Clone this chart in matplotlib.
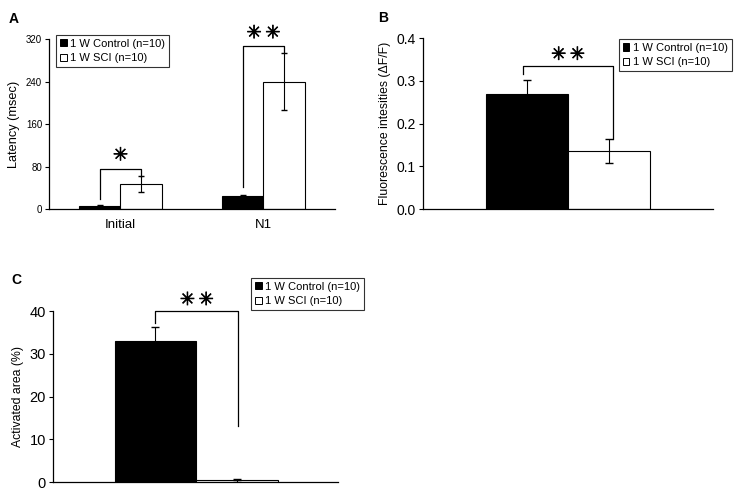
import matplotlib
matplotlib.use("Agg")
import matplotlib.pyplot as plt
import matplotlib.patheffects as pe
from matplotlib.patches import Patch

plt.rcParams['font.family'] = ['Liberation Sans', 'DejaVu Sans']

groups_a = ['Initial', 'N1']
control_a = [6, 25]
control_a_err = [1, 2]
sci_a = [47, 240]
sci_a_err = [15, 53]

control_b = 0.270
control_b_err = 0.033
sci_b = 0.136
sci_b_err = 0.028

control_c = 32.9
control_c_err = 3.4
sci_c = 0.4
sci_c_err = 0.3

legend_labels = ['1 W Control (n=10)', '1 W SCI (n=10)']


def style_axes(ax):
    for s in ['top', 'right']:
        ax.spines[s].set_visible(False)
    ax.spines['left'].set_linewidth(0.9)
    ax.spines['bottom'].set_linewidth(0.9)
    ax.tick_params(axis='y', direction='out', length=3, width=0.8, pad=2)
    ax.tick_params(axis='x', length=0)


def add_legend(ax, loc, anchor, size):
    handles = [Patch(facecolor='black', edgecolor='black', linewidth=0.7),
               Patch(facecolor='white', edgecolor='black', linewidth=0.7)]
    leg = ax.legend(handles, legend_labels, loc=loc, bbox_to_anchor=anchor,
                    fontsize=size, frameon=True, fancybox=False,
                    handlelength=0.6, handleheight=0.6, handletextpad=0.3,
                    borderpad=0.35, labelspacing=0.4, borderaxespad=0)
    leg.get_frame().set_edgecolor('black')
    leg.get_frame().set_linewidth(0.8)


def bracket(ax, x1, y1, x2, y2, ytop, label, ylabel, size):
    ax.plot([x1, x1, x2, x2], [y1, ytop, ytop, y2], color='black', lw=0.9,
            clip_on=False)
    ax.text((x1 + x2) / 2, ylabel, label, ha='center', va='center',
            fontsize=size, family='DejaVu Sans', clip_on=False,
            path_effects=[pe.withStroke(linewidth=0.5, foreground='black')])


fig = plt.figure(figsize=(7.37, 4.91), dpi=100)

# ---- A ----
ax = fig.add_axes([0.0665, 0.5743, 0.388, 0.3462])
w = 0.287
xs = [0, 1]
ax.bar([x - w / 2 for x in xs], control_a, w, color='black', edgecolor='black',
       linewidth=0.8, yerr=control_a_err, ecolor='black',
       error_kw=dict(elinewidth=0.8, capsize=2))
ax.bar([x + w / 2 for x in xs], sci_a, w, color='white', edgecolor='black',
       linewidth=0.8, yerr=sci_a_err, ecolor='black',
       error_kw=dict(elinewidth=0.8, capsize=2))
ax.set_xlim(-0.5, 1.5)
ax.set_ylim(0, 320)
ax.set_yticks([0, 80, 160, 240, 320])
ax.set_xticks(xs)
ax.set_xticklabels(groups_a, fontsize=9.5)
ax.tick_params(axis='y', labelsize=7)
ax.tick_params(axis='x', pad=7)
ax.set_ylabel('Latency (msec)', fontsize=9.2, labelpad=4)
style_axes(ax)
bracket(ax, -w / 2, 18, w / 2, 61, 75, '✳', 101, 13)
bracket(ax, 1 - w / 2, 42, 1 + w / 2, 295, 307, '✳\u2009✳', 331, 13)
add_legend(ax, 'upper left', (0.025, 1.025), 8)
fig.text(0.012, 0.975, 'A', fontsize=10, fontweight='bold', va='top')

# ---- B ----
ax = fig.add_axes([0.574, 0.5743, 0.3935, 0.348])
ax.bar([-0.5], [control_b], 1, color='black', edgecolor='black', linewidth=0.8,
       yerr=[control_b_err], ecolor='black', error_kw=dict(elinewidth=0.8, capsize=3))
ax.bar([0.5], [sci_b], 1, color='white', edgecolor='black', linewidth=0.8,
       yerr=[sci_b_err], ecolor='black', error_kw=dict(elinewidth=0.8, capsize=3))
ax.set_xlim(-1.77, 1.77)
ax.set_ylim(0, 0.4)
ax.set_yticks([0, 0.1, 0.2, 0.3, 0.4])
ax.set_yticklabels(['0.0', '0.1', '0.2', '0.3', '0.4'])
ax.set_xticks([])
ax.tick_params(axis='y', labelsize=10)
ax.set_ylabel('Fluorescence intesities (ΔF/F)', fontsize=8.8, labelpad=4)
style_axes(ax)
bracket(ax, -0.55, 0.316, 0.55, 0.163, 0.334, '✳\u2009✳', 0.361, 13)
add_legend(ax, 'upper left', (0.675, 0.995), 8)
fig.text(0.513, 0.978, 'B', fontsize=10, fontweight='bold', va='top')

# ---- C ----
ax = fig.add_axes([0.0719, 0.0183, 0.3867, 0.348])
ax.bar([-0.5], [control_c], 1, color='black', edgecolor='black', linewidth=0.8,
       yerr=[control_c_err], ecolor='black', error_kw=dict(elinewidth=0.8, capsize=3))
ax.bar([0.5], [sci_c], 1, color='white', edgecolor='black', linewidth=0.8,
       yerr=[sci_c_err], ecolor='black', error_kw=dict(elinewidth=0.8, capsize=3))
ax.set_xlim(-1.755, 1.742)
ax.set_ylim(0, 40)
ax.set_yticks([0, 10, 20, 30, 40])
ax.set_xticks([])
ax.tick_params(axis='y', labelsize=10.5)
ax.set_ylabel('Activated area (%)', fontsize=8.8, labelpad=4)
style_axes(ax)
bracket(ax, -0.5, 37.3, 0.52, 13.0, 40.1, '✳\u2009✳', 42.6, 13)
add_legend(ax, 'upper left', (0.695, 1.195), 8)
fig.text(0.015, 0.445, 'C', fontsize=10, fontweight='bold', va='top')

fig.savefig('out.png', dpi=100)
